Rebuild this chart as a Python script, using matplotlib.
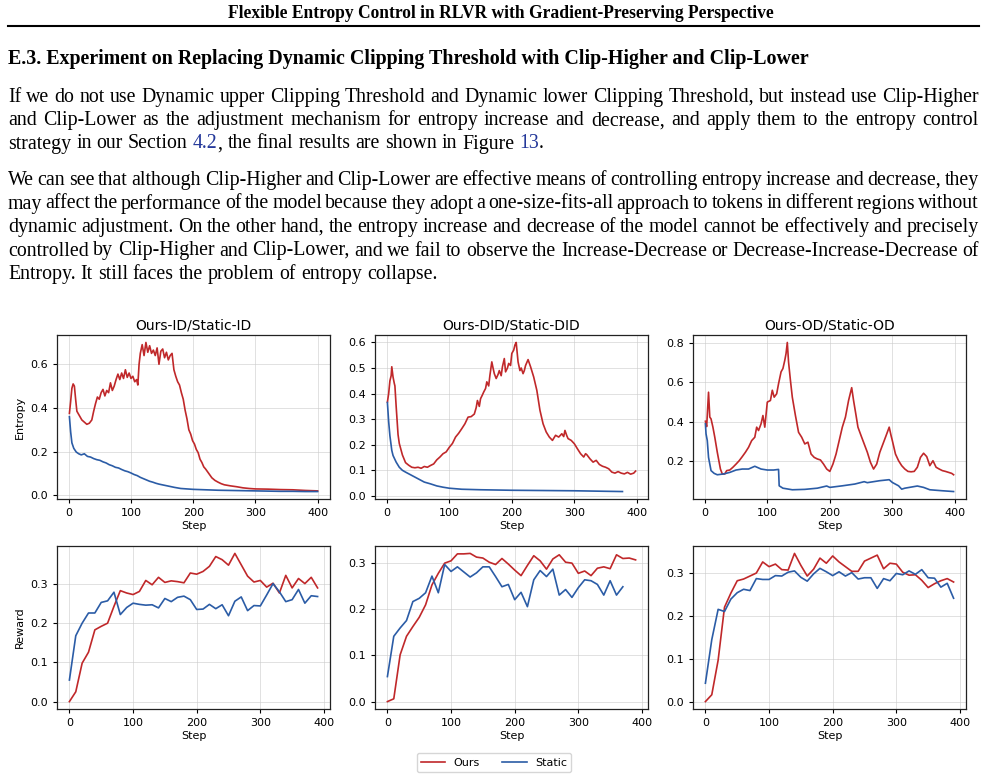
import re
import numpy as np
import matplotlib
matplotlib.use("Agg")
import matplotlib.pyplot as plt
from matplotlib.lines import Line2D

# ---- page text ----
header = "Flexible Entropy Control in RLVR with Gradient-Preserving Perspective"
section = "E.3. Experiment on Replacing Dynamic Clipping Threshold with Clip-Higher and Clip-Lower"
para1 = [
    "If we do not use Dynamic upper Clipping Threshold and Dynamic lower Clipping Threshold, but instead use Clip-Higher",
    "and Clip-Lower as the adjustment mechanism for entropy increase and decrease, and apply them to the entropy control",
    "strategy in our Section [4.2], the final results are shown in Figure [13].",
]
para2 = [
    "We can see that although Clip-Higher and Clip-Lower are effective means of controlling entropy increase and decrease, they",
    "may affect the performance of the model because they adopt a one-size-fits-all approach to tokens in different regions without",
    "dynamic adjustment. On the other hand, the entropy increase and decrease of the model cannot be effectively and precisely",
    "controlled by Clip-Higher and Clip-Lower, and we fail to observe the Increase-Decrease or Decrease-Increase-Decrease of",
    "Entropy. It still faces the problem of entropy collapse.",
]

titles = ["Ours-ID/Static-ID", "Ours-DID/Static-DID", "Ours-OD/Static-OD"]

# ---- entropy curves ----
id_ours_step = [1, 3, 5, 7, 9, 11, 13, 15, 18, 21, 25, 29, 33, 37, 40, 43, 46, 49, 52, 55,
                58, 61, 64, 67, 70, 73, 76, 79, 82, 85, 88, 91, 94, 97, 100, 103, 106, 109, 111, 113,
                115, 118, 121, 124, 127, 130, 133, 136, 139, 142, 145, 148, 151, 154, 157, 160, 163, 166, 169, 172,
                175, 178, 181, 184, 187, 190, 193, 196, 199, 202, 205, 208, 211, 214, 217, 220, 225, 230, 235, 240,
                245, 250, 260, 270, 280, 290, 300, 320, 340, 360, 380, 400]
id_ours_ent = [0.375, 0.43, 0.49, 0.51, 0.50, 0.44, 0.385, 0.375, 0.36, 0.345, 0.335, 0.325, 0.33, 0.345, 0.385, 0.42, 0.45, 0.44, 0.47, 0.485,
               0.455, 0.48, 0.47, 0.515, 0.48, 0.50, 0.53, 0.555, 0.53, 0.56, 0.535, 0.575, 0.54, 0.56, 0.535, 0.545, 0.52, 0.53, 0.505, 0.60,
               0.65, 0.69, 0.64, 0.70, 0.655, 0.685, 0.65, 0.665, 0.64, 0.675, 0.60, 0.66, 0.67, 0.63, 0.655, 0.62, 0.64, 0.65, 0.575, 0.545,
               0.52, 0.505, 0.47, 0.44, 0.39, 0.35, 0.30, 0.28, 0.25, 0.235, 0.21, 0.195, 0.165, 0.15, 0.13, 0.12, 0.10, 0.08, 0.068, 0.06,
               0.053, 0.048, 0.043, 0.039, 0.034, 0.031, 0.029, 0.028, 0.026, 0.025, 0.022, 0.020]
id_static_step = [1, 3, 5, 8, 12, 16, 20, 25, 30, 35, 40, 45, 50, 55, 60, 65, 70, 75, 80, 85,
                  90, 95, 100, 105, 110, 115, 120, 125, 130, 135, 140, 145, 150, 160, 170, 180, 190, 200, 220, 240,
                  260, 280, 300, 320, 340, 360, 380, 400]
id_static_ent = [0.36, 0.29, 0.24, 0.215, 0.198, 0.19, 0.185, 0.19, 0.178, 0.175, 0.168, 0.163, 0.16, 0.153, 0.148, 0.14, 0.135, 0.128, 0.125, 0.118,
                 0.112, 0.108, 0.102, 0.095, 0.09, 0.082, 0.076, 0.07, 0.064, 0.06, 0.055, 0.051, 0.048, 0.042, 0.036, 0.031, 0.029, 0.027, 0.025, 0.023,
                 0.022, 0.021, 0.02, 0.019, 0.018, 0.018, 0.017, 0.017]

did_ours_step = [1, 3, 5, 7, 8, 10, 12, 13, 15, 18, 20, 25, 30, 35, 40, 45, 50, 55, 60, 65,
                 70, 75, 80, 85, 90, 95, 100, 105, 110, 115, 120, 125, 130, 135, 140, 143, 145, 148, 150, 153,
                 155, 158, 160, 163, 165, 168, 170, 172, 175, 178, 180, 183, 185, 188, 190, 193, 195, 198, 200, 203,
                 205, 207, 210, 213, 215, 218, 220, 222, 226, 230, 235, 240, 245, 250, 255, 260, 265, 270, 275, 280,
                 283, 285, 288, 290, 295, 300, 305, 310, 315, 318, 320, 325, 330, 335, 340, 345, 350, 355, 360, 365,
                 370, 375, 380, 385, 390, 395, 398]
did_ours_ent = [0.367, 0.40, 0.45, 0.47, 0.505, 0.465, 0.44, 0.43, 0.35, 0.24, 0.205, 0.16, 0.13, 0.12, 0.112, 0.11, 0.112, 0.108, 0.115, 0.112,
                0.119, 0.125, 0.141, 0.152, 0.165, 0.172, 0.19, 0.205, 0.23, 0.245, 0.263, 0.282, 0.308, 0.31, 0.32, 0.345, 0.373, 0.35, 0.38, 0.395,
                0.406, 0.42, 0.446, 0.43, 0.472, 0.524, 0.50, 0.478, 0.459, 0.475, 0.49, 0.47, 0.505, 0.537, 0.485, 0.50, 0.518, 0.51, 0.557, 0.57,
                0.59, 0.60, 0.524, 0.49, 0.50, 0.478, 0.49, 0.51, 0.533, 0.505, 0.465, 0.413, 0.335, 0.282, 0.25, 0.23, 0.217, 0.237, 0.23, 0.243,
                0.232, 0.256, 0.235, 0.224, 0.217, 0.204, 0.184, 0.165, 0.152, 0.165, 0.161, 0.145, 0.132, 0.139, 0.123, 0.116, 0.112, 0.106, 0.093, 0.089,
                0.095, 0.089, 0.086, 0.092, 0.085, 0.089, 0.097]
did_static_step = [1, 3, 5, 8, 10, 15, 20, 25, 30, 40, 50, 60, 70, 80, 90, 100, 120, 150, 200, 250, 300, 350, 377]
did_static_ent = [0.365, 0.29, 0.235, 0.178, 0.158, 0.132, 0.112, 0.10, 0.093, 0.08, 0.067, 0.054, 0.047, 0.039, 0.034, 0.03, 0.026, 0.024, 0.022, 0.021, 0.02, 0.018, 0.017]

od_ours_step = [1, 3, 6, 8, 10, 13, 16, 20, 25, 28, 32, 35, 40, 45, 50, 55, 60, 65, 70, 75,
                80, 83, 86, 90, 93, 96, 100, 105, 108, 111, 115, 118, 122, 125, 128, 130, 132, 134, 137, 140,
                145, 150, 155, 160, 165, 170, 175, 180, 185, 190, 195, 200, 205, 210, 215, 220, 225, 230, 235, 238,
                242, 245, 250, 255, 260, 265, 270, 275, 280, 285, 290, 295, 298, 300, 305, 310, 315, 320, 325, 330,
                335, 340, 345, 350, 355, 360, 365, 370, 375, 380, 385, 390, 395, 398]
od_ours_ent = [0.403, 0.376, 0.55, 0.424, 0.415, 0.373, 0.322, 0.246, 0.161, 0.136, 0.136, 0.153, 0.156, 0.17, 0.186, 0.203, 0.224, 0.246, 0.271, 0.305,
               0.322, 0.373, 0.356, 0.39, 0.432, 0.373, 0.50, 0.508, 0.56, 0.525, 0.542, 0.593, 0.653, 0.67, 0.712, 0.746, 0.802, 0.703, 0.61, 0.525,
               0.432, 0.347, 0.322, 0.288, 0.297, 0.237, 0.22, 0.212, 0.207, 0.186, 0.161, 0.149, 0.186, 0.237, 0.305, 0.373, 0.424, 0.508, 0.573, 0.508,
               0.432, 0.373, 0.33, 0.288, 0.246, 0.195, 0.161, 0.186, 0.246, 0.288, 0.33, 0.373, 0.33, 0.305, 0.237, 0.203, 0.178, 0.161, 0.149, 0.147,
               0.149, 0.17, 0.22, 0.241, 0.224, 0.178, 0.203, 0.17, 0.161, 0.153, 0.149, 0.144, 0.139, 0.132]
od_static_step = [1, 2, 4, 6, 10, 15, 20, 30, 40, 50, 60, 70, 80, 90, 100, 110, 118, 119, 125, 140,
                  160, 180, 195, 200, 220, 240, 255, 260, 280, 295, 300, 310, 315, 320, 340, 350, 360, 380, 398]
od_static_ent = [0.39, 0.339, 0.305, 0.22, 0.153, 0.139, 0.132, 0.136, 0.144, 0.156, 0.161, 0.161, 0.175, 0.161, 0.156, 0.156, 0.159, 0.076, 0.064, 0.056,
                 0.058, 0.064, 0.075, 0.068, 0.076, 0.085, 0.097, 0.092, 0.102, 0.107, 0.093, 0.076, 0.059, 0.064, 0.075, 0.068, 0.056, 0.051, 0.047]

# ---- reward curves (every 10 steps) ----
reward_step = [0, 10, 20, 30, 40, 50, 60, 70, 80, 90, 100, 110, 120, 130, 140, 150, 160, 170, 180, 190,
               200, 210, 220, 230, 240, 250, 260, 270, 280, 290, 300, 310, 320, 330, 340, 350, 360, 370, 380, 390]
id_ours_rew = [0.0, 0.025, 0.098, 0.126, 0.183, 0.192, 0.2, 0.243, 0.283, 0.277, 0.273, 0.281, 0.309, 0.298, 0.317, 0.304, 0.308, 0.306, 0.303, 0.328,
               0.325, 0.332, 0.345, 0.37, 0.362, 0.348, 0.378, 0.349, 0.32, 0.305, 0.309, 0.292, 0.302, 0.277, 0.322, 0.29, 0.314, 0.301, 0.317, 0.29]
id_static_rew = [0.055, 0.168, 0.2, 0.226, 0.226, 0.253, 0.257, 0.279, 0.222, 0.24, 0.251, 0.248, 0.246, 0.247, 0.239, 0.263, 0.255, 0.266, 0.269, 0.26,
                 0.235, 0.236, 0.248, 0.237, 0.247, 0.219, 0.256, 0.267, 0.232, 0.245, 0.244, 0.272, 0.301, 0.28, 0.255, 0.26, 0.286, 0.251, 0.27, 0.268]
did_ours_rew = [0.0, 0.006, 0.101, 0.141, 0.162, 0.182, 0.209, 0.252, 0.277, 0.299, 0.304, 0.319, 0.319, 0.32, 0.312, 0.31, 0.301, 0.296, 0.309, 0.297,
                0.284, 0.272, 0.294, 0.315, 0.304, 0.286, 0.308, 0.317, 0.301, 0.299, 0.277, 0.282, 0.272, 0.288, 0.291, 0.287, 0.317, 0.309, 0.31, 0.306]
did_static_rew = [0.054, 0.141, 0.159, 0.175, 0.216, 0.223, 0.235, 0.271, 0.235, 0.296, 0.281, 0.291, 0.28, 0.269, 0.278, 0.291, 0.291, 0.27, 0.248, 0.253,
                  0.22, 0.236, 0.205, 0.263, 0.283, 0.27, 0.286, 0.23, 0.242, 0.225, 0.246, 0.263, 0.261, 0.253, 0.23, 0.261, 0.23, 0.248]
od_ours_rew = [0.0, 0.016, 0.097, 0.221, 0.254, 0.283, 0.287, 0.294, 0.301, 0.327, 0.316, 0.322, 0.309, 0.308, 0.347, 0.319, 0.294, 0.31, 0.336, 0.324,
               0.341, 0.327, 0.316, 0.305, 0.305, 0.329, 0.336, 0.343, 0.311, 0.324, 0.322, 0.303, 0.296, 0.297, 0.284, 0.267, 0.276, 0.283, 0.288, 0.28]
od_static_rew = [0.043, 0.145, 0.216, 0.211, 0.24, 0.255, 0.263, 0.26, 0.288, 0.286, 0.286, 0.295, 0.294, 0.303, 0.306, 0.291, 0.282, 0.299, 0.312, 0.304,
                 0.295, 0.304, 0.294, 0.302, 0.287, 0.29, 0.29, 0.265, 0.288, 0.283, 0.3, 0.297, 0.306, 0.298, 0.309, 0.29, 0.289, 0.268, 0.277, 0.242]

RED = "#c0282a"
BLUE = "#2b5ca6"
LINK = "#24389a"

W, H = 987, 780
fig = plt.figure(figsize=(W / 100, H / 100), dpi=100)
fig.canvas.draw()
rend = fig.canvas.get_renderer()
SERIF = "Liberation Serif"


def measure(s, size, weight="normal"):
    t = fig.text(0, 0, s, fontsize=size, family=SERIF, weight=weight)
    w = t.get_window_extent(rend).width
    t.remove()
    return w


def fit_size(s, target, weight="normal"):
    return 12 * target / measure(s, 12, weight)


def pieces(word):
    out = []
    for part in re.split(r"(\[[^\]]*\])", word):
        if not part:
            continue
        if part.startswith("["):
            out.append((part[1:-1], LINK))
        else:
            out.append((part, "black"))
    return out


def draw_line(line, y, size, justify, left=8, right=979):
    words = [pieces(w) for w in line.split(" ")]
    widths = [[measure(p, size) for p, c in wd] for wd in words]
    total = sum(sum(w) for w in widths)
    if justify:
        gap = (right - left - total) / (len(words) - 1)
    else:
        gap = measure("a a", size) - measure("aa", size)
    x = left
    for wd, ws in zip(words, widths):
        for (p, c), pw in zip(wd, ws):
            fig.text(x / W, 1 - y / H, p, fontsize=size, family=SERIF, color=c,
                     ha="left", va="baseline")
            x += pw
        x += gap


# header and rule
hs = fit_size(header, 543, "bold")
fig.text(500.5 / W, 1 - 18.5 / H, header, fontsize=hs, family=SERIF, weight="bold",
         ha="center", va="baseline")
fig.add_artist(Line2D([8 / W, 979 / W], [1 - 26 / H, 1 - 26 / H], color="black", lw=1.5))

ss = fit_size(section, 798, "bold")
fig.text(8 / W, 1 - 64 / H, section, fontsize=ss, family=SERIF, weight="bold",
         ha="left", va="baseline")

bs = fit_size("strategy in our Section 4.2, the final results are shown in Figure 13.", 532)
for i, line in enumerate(para1):
    draw_line(line, 101.7 + 23.4 * i, bs, i < len(para1) - 1)
for i, line in enumerate(para2):
    draw_line(line, 185 + 23.5 * i, bs, i < len(para2) - 1)

# ---- plots ----
lefts = [57, 375, 693]
aw = 273
top_row = (335, 499)
bot_row = (546, 709)

ent_data = [
    (id_ours_step, id_ours_ent, id_static_step, id_static_ent),
    (did_ours_step, did_ours_ent, did_static_step, did_static_ent),
    (od_ours_step, od_ours_ent, od_static_step, od_static_ent),
]
rew_data = [
    (id_ours_rew, id_static_rew),
    (did_ours_rew, did_static_rew),
    (od_ours_rew, od_static_rew),
]


def make_ax(left, row):
    t, b = row
    return fig.add_axes([left / W, 1 - b / H, aw / W, (b - t) / H])


def style(ax):
    ax.grid(True, color="#cccccc", alpha=0.6, lw=0.7)
    ax.tick_params(labelsize=8, length=3, width=0.8)
    for sp in ax.spines.values():
        sp.set_color("#222222")
        sp.set_linewidth(0.9)
    ax.set_xticks([0, 100, 200, 300, 400])
    ax.set_xlabel("Step", fontsize=8, labelpad=2)


for i in range(3):
    ax = make_ax(lefts[i], top_row)
    os_, oe, ss_, se = ent_data[i]
    ax.plot(os_, oe, color=RED, lw=1.2)
    ax.plot(ss_, se, color=BLUE, lw=1.2)
    ax.set_title(titles[i], fontsize=10, pad=4)
    style(ax)
    if i == 0:
        ax.set_ylabel("Entropy", fontsize=8)

    ax = make_ax(lefts[i], bot_row)
    o, s = rew_data[i]
    ax.plot(reward_step[:len(o)], o, color=RED, lw=1.2, label="Ours")
    ax.plot(reward_step[:len(s)], s, color=BLUE, lw=1.2, label="Static")
    style(ax)
    if i == 0:
        ax.set_ylabel("Reward", fontsize=8)
        handles, labels = ax.get_legend_handles_labels()

fig.legend(handles, labels, loc="center", bbox_to_anchor=(494 / W, 1 - 762.5 / H),
           ncol=2, fontsize=8, frameon=True, handlelength=2.2, columnspacing=2.0,
           borderpad=0.4, handletextpad=0.75)

fig.savefig("out.png", dpi=100)
